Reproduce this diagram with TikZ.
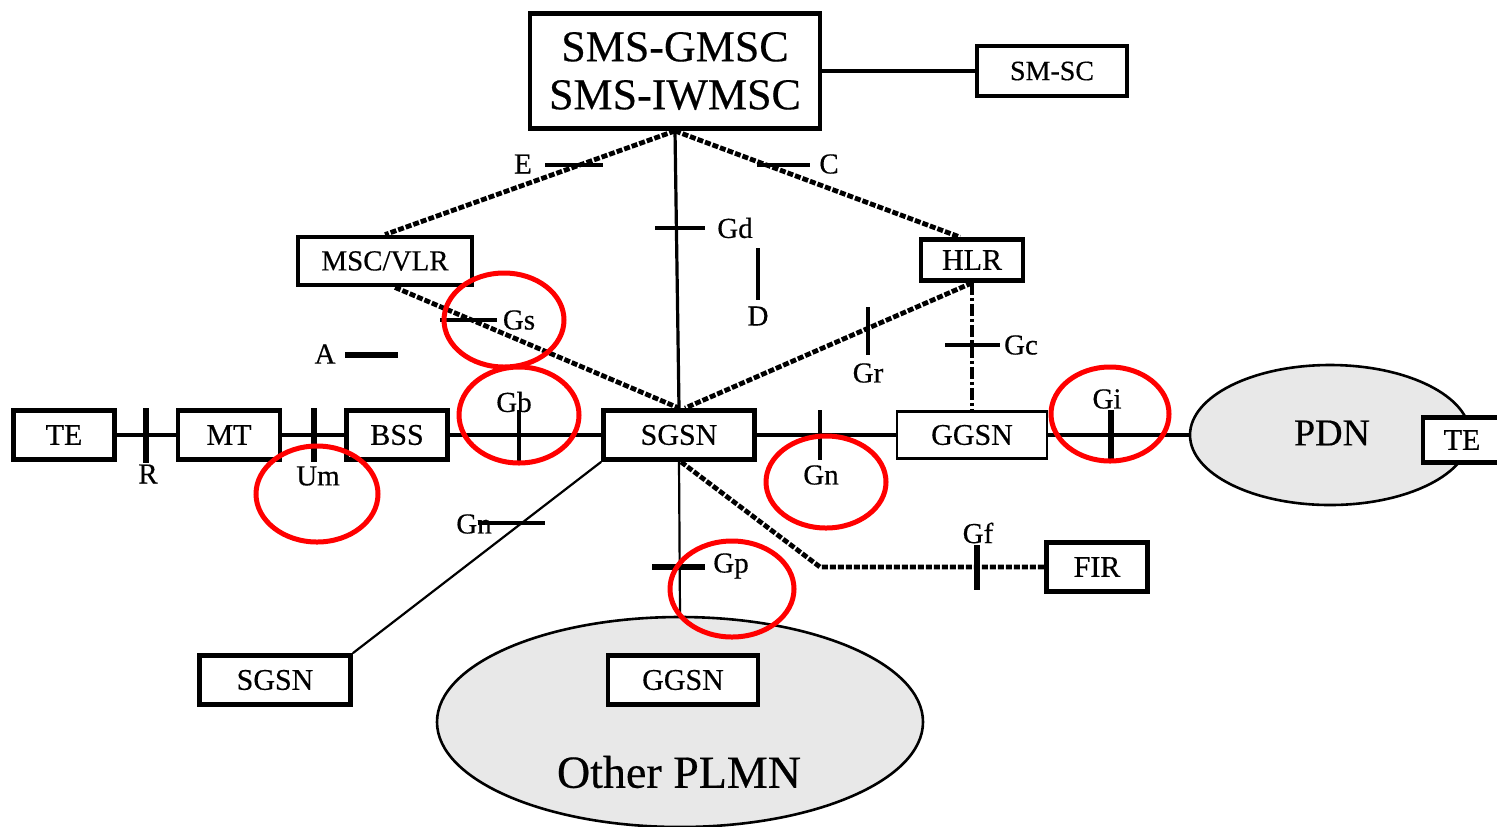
\documentclass[tikz,border=0pt]{standalone}
\usepackage{fontspec}
\setmainfont{Liberation Serif}[FakeBold=0.4]
\usetikzlibrary{shapes.geometric}
\begin{document}
\begin{tikzpicture}[x=0.5pt,y=-0.5pt,
  box/.style={draw, line width=2.4pt, fill=white, inner sep=0pt, font=\fontsize{15}{17}\selectfont},
  thinbox/.style={draw, line width=1.3pt, fill=white, inner sep=0pt, font=\fontsize{15}{17}\selectfont},
  cloud/.style={draw, ellipse, line width=1.3pt, fill=black!9, inner sep=0pt},
  solidline/.style={line width=1.6pt},
  thinline/.style={line width=1.1pt},
  dashline/.style={line width=2.4pt, dash pattern=on 3pt off 1pt},
  dashdot/.style={line width=2.4pt, dash pattern=on 6pt off 1.5pt on 1.5pt off 1.5pt},
  tick/.style={line width=1.6pt},
  thicktick/.style={line width=2.8pt},
  lbl/.style={inner sep=0pt, font=\fontsize{14.5}{16}\selectfont},
  mark circle/.style={draw=red, line width=2.5pt}
]
\useasboundingbox (0,0) rectangle (1497,826);

% clouds first
\node[cloud, minimum width=140pt, minimum height=70pt] (pdn) at (1330,435) {};
\node[lbl, font=\fontsize{19}{21}\selectfont] (pdnlbl) at (1332,433) {PDN};
\node[cloud, minimum width=243pt, minimum height=105pt] (plmn) at (680,722) {};
\node[lbl, font=\fontsize{23}{25}\selectfont] (plmnlbl) at (679,772) {Other PLMN};

% boxes
\node[box, minimum width=145pt, minimum height=57.5pt, align=center, font=\fontsize{22}{24}\selectfont] (sms) at (675,71) {SMS-GMSC\\SMS-IWMSC};
\node[box, minimum width=75pt, minimum height=25pt, font=\fontsize{14}{16}\selectfont] (smsc) at (1052,71) {SM-SC};
\node[box, minimum width=87pt, minimum height=24pt, font=\fontsize{14.5}{16}\selectfont] (msc) at (385,261) {MSC/VLR};
\node[box, minimum width=51pt, minimum height=20.5pt] (hlr) at (972,260) {HLR};
\node[box, minimum width=50.5pt, minimum height=24.5pt] (te1) at (64,435) {TE};
\node[box, minimum width=51pt, minimum height=24.5pt] (mt) at (229,435) {MT};
\node[box, minimum width=50.5pt, minimum height=24.5pt] (bss) at (397,435) {BSS};
\node[box, minimum width=75.5pt, minimum height=24.5pt] (sgsn) at (679,435) {SGSN};
\node[thinbox, minimum width=75pt, minimum height=23.5pt] (ggsn) at (972,435) {GGSN};
\node[box, minimum width=39pt, minimum height=22.5pt] (te2) at (1462,440) {TE};
\node[box, minimum width=50.5pt, minimum height=24.5pt] (fir) at (1097,567) {FIR};
\node[box, minimum width=75.5pt, minimum height=24.5pt] (sgsn2) at (275,680) {SGSN};
\node[box, minimum width=75pt, minimum height=24.5pt] (ggsn2) at (683,680) {GGSN};

% connectors
\draw[solidline] (sms.east) -- (smsc.west);
\draw[solidline] (sms.south) -- (sgsn.north);
\draw[dashline] (sms.south) -- (msc.north);
\draw[dashline] (sms.south) -- ([xshift=-6pt]hlr.north);
\draw[dashline] ([xshift=5pt]msc.south) -- (sgsn.north);
\draw[dashline] (hlr.south) -- ([xshift=3pt]sgsn.north);
\draw[dashdot] (hlr.south) -- (ggsn.north);
\draw[solidline] (te1.east) -- (mt.west);
\draw[solidline] (mt.east) -- (bss.west);
\draw[solidline] (bss.east) -- (sgsn.west);
\draw[solidline] (sgsn.east) -- (ggsn.west);
\draw[solidline] (ggsn.east) -- (pdn.west);
\draw[thinline] (sgsn.south west) -- (sgsn2.north east);
\draw[thinline] (sgsn.south) -- (plmn.north);
\coordinate (bend) at (820,567);
\draw[dashline] ([xshift=1pt]sgsn.south) -- (bend) -- (fir.west);

% interface ticks and labels
\draw[tick] (545,165) -- (603,165);
\node[lbl] (lE) at (523,164) {E};
\draw[tick] (757,165) -- (810,165);
\node[lbl] (lC) at (829,164) {C};
\draw[tick] (655,228) -- (705,228);
\node[lbl] (lGd) at (735,228) {Gd};
\draw[tick] (758,248) -- (758,300);
\node[lbl] (lD) at (758,316) {D};
\draw[tick] (440,320) -- (497,320);
\node[lbl] (lGs) at (519,320) {Gs};
\draw[thicktick] (345,355) -- (398,355);
\node[lbl] (lA) at (325,354) {A};
\draw[tick] (868,307) -- (868,355);
\node[lbl] (lGr) at (868,373) {Gr};
\draw[tick] (945,345) -- (1000,345);
\node[lbl] (lGc) at (1021,345) {Gc};
\draw[thicktick] (146,408) -- (146,463);
\node[lbl] (lR) at (148,474) {R};
\draw[thicktick] (314,408) -- (314,462);
\node[lbl] (lUm) at (318,476) {Um};
\draw[tick] (519,410) -- (519,462);
\node[lbl] (lGb) at (514,402) {Gb};
\draw[tick] (820,410) -- (820,460);
\node[lbl] (lGn) at (821,475) {Gn};
\draw[thicktick] (1111,410) -- (1111,462);
\node[lbl] (lGi) at (1107,399) {Gi};
\draw[tick] (478,523) -- (545,523);
\node[lbl] (lGn2) at (474,524) {Gn};
\draw[thicktick] (652,567) -- (705,567);
\node[lbl] (lGp) at (731,566) {Gp};
\draw[thicktick] (977,545) -- (977,590);
\node[lbl] (lGf) at (978,533) {Gf};

% red highlight circles
\draw[mark circle] (504,320) ellipse [x radius=30pt, y radius=23.5pt];
\draw[mark circle] (519,415) ellipse [x radius=30pt, y radius=24pt];
\draw[mark circle] (317,494) ellipse [x radius=30.5pt, y radius=24pt];
\draw[mark circle] (826,482) ellipse [x radius=30pt, y radius=23pt];
\draw[mark circle] (1110,414) ellipse [x radius=29.5pt, y radius=23.5pt];
\draw[mark circle] (732,589) ellipse [x radius=31pt, y radius=24pt];
\end{tikzpicture}
\end{document}
